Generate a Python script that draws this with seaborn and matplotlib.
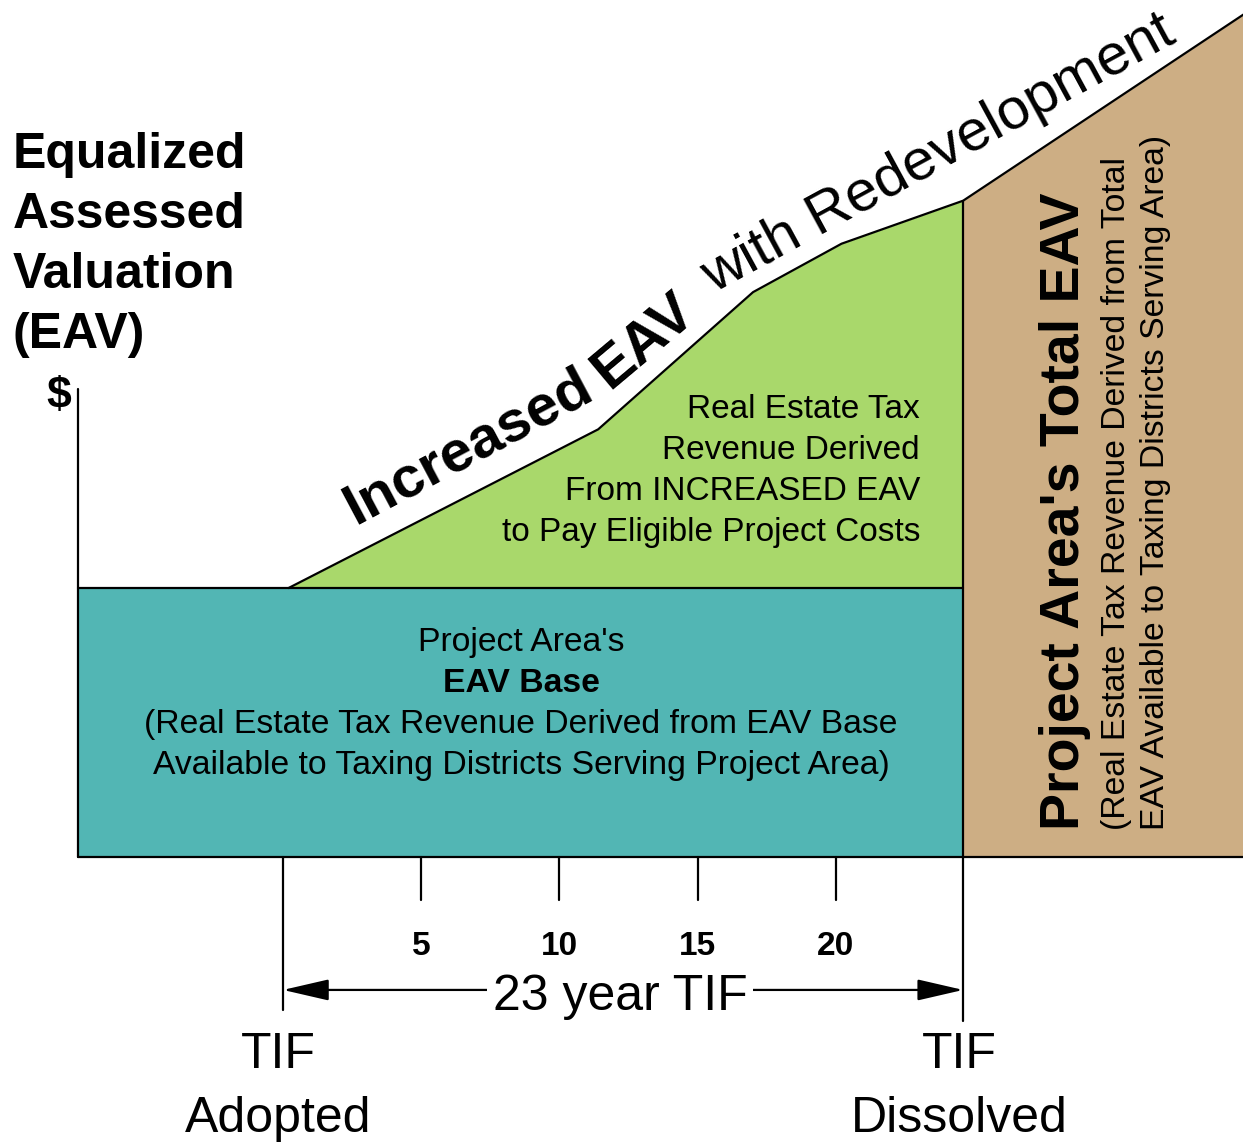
import matplotlib
matplotlib.use("Agg")
import matplotlib.pyplot as plt
import pandas as pd
import seaborn as sns

base_years = [-7.4, 24.6]
base_eav = [100, 100]
growth_years = [0.2, 11.4, 17.0, 20.2, 24.6]
growth_eav = [100, 159, 210, 228, 244]
total_years = [24.6, 35.0]
total_eav = [244, 315]
tick_years = [5, 10, 15, 20]
tick_labels = ["5", "10", "15", "20"]
tif_adopted = 0
tif_dissolved = 24.6

ylabel_lines = ["Equalized", "Assessed", "Valuation", "(EAV)"]
green_lines = ["Real Estate Tax", "Revenue Derived", "From INCREASED EAV",
               "to Pay Eligible Project Costs"]
teal_lines = ["Project Area's", "EAV Base",
              "(Real Estate Tax Revenue Derived from EAV Base",
              "Available to Taxing Districts Serving Project Area)"]

teal = "#52b6b4"
green = "#a9d86b"
tan = "#cdae84"
lw = 1.6

sns.set_style("white")
plt.rcParams["font.family"] = ["Liberation Sans", "DejaVu Sans"]
plt.rcParams["text.color"] = "black"

fig = plt.figure(figsize=(12.43, 11.43), dpi=100)
ax = fig.add_axes([0, 0, 1, 1])
ax.set_xlim(-10.235, 34.72)
ax.set_ylim(-106.3, 318.6)
ax.axis("off")

# Zones colorées
ax.fill_between(base_years, 0, base_eav, color=teal, lw=0)
ax.fill_between(growth_years, base_eav[0], growth_eav, color=green, lw=0)
ax.fill_between(total_years, 0, total_eav, color=tan, lw=0)

# Contour de la courbe EAV
curve = pd.DataFrame({"year": growth_years + total_years[1:],
                      "eav": growth_eav + total_eav[1:]})
sns.lineplot(data=curve, x="year", y="eav", sort=False, estimator=None,
             color="black", lw=lw, ax=ax)
ax.plot(base_years, base_eav, color="black", lw=lw)
ax.plot([base_years[0], total_years[1]], [0, 0], color="black", lw=lw)
ax.plot([base_years[0], base_years[0]], [0, 174], color="black", lw=lw)
ax.plot([tif_dissolved, tif_dissolved], [-61, growth_eav[-1]], color="black", lw=lw)
ax.plot([tif_adopted, tif_adopted], [-57, 0], color="black", lw=lw)
for t, lab in zip(tick_years, tick_labels):
    ax.plot([t, t], [-16, 0], color="black", lw=lw)
    ax.text(t, -36.4, lab, ha="center", va="baseline", fontsize=24,
            fontweight="bold")

# Titre de l'axe
for i, line in enumerate(ylabel_lines):
    ax.text(-9.765, 256.1 - i * 22.3, line, ha="left", va="baseline",
            fontsize=36, fontweight="bold")
ax.text(-8.1, 167, "$", ha="center", va="baseline", fontsize=32,
        fontweight="bold")

# Texte le long de la courbe
ax.text(2.6, 123.5, "Increased", rotation=28, rotation_mode="anchor",
        ha="left", va="baseline", fontsize=42, fontweight="bold")
ax.text(11.8, 173.5, "EAV", rotation=40, rotation_mode="anchor",
        ha="left", va="baseline", fontsize=42, fontweight="bold")
ax.text(15.55, 209.5, "with Redevelopment", rotation=28.5,
        rotation_mode="anchor", ha="left", va="baseline", fontsize=42)

# Zone verte
for i, line in enumerate(green_lines):
    ax.text(23.04, 163.2 - i * 15.2, line, ha="right", va="baseline",
            fontsize=24)

# Zone bleue
for i, line in enumerate(teal_lines):
    ax.text(8.61, 76.6 - i * 15.2, line, ha="center", va="baseline",
            fontsize=24.3, fontweight="bold" if i == 1 else "normal")

# Zone brune (texte vertical)
ax.text(28.28, 10, "Project Area's Total EAV", rotation=90, ha="center",
        va="bottom", fontsize=40, fontweight="bold")
ax.text(30.16, 10, "(Real Estate Tax Revenue Derived from Total",
        rotation=90, ha="center", va="bottom", fontsize=24.3)
ax.text(31.57, 10, "EAV Available to Taxing Districts Serving Area)",
        rotation=90, ha="center", va="bottom", fontsize=24.3)

# Flèche de durée du TIF
ax.annotate("", xy=(tif_adopted, -49.4), xytext=(tif_dissolved, -49.4),
            arrowprops=dict(arrowstyle="<|-|>,head_length=1.3,head_width=0.3",
                            color="black", lw=lw, mutation_scale=22,
                            shrinkA=0, shrinkB=0))
ax.text(12.19, -57, "23 year TIF", ha="center", va="baseline", fontsize=36,
        bbox=dict(facecolor="white", edgecolor="none", pad=4))

ax.text(-0.18, -78.4, "TIF", ha="center", va="baseline", fontsize=36)
ax.text(-0.18, -102.2, "Adopted", ha="center", va="baseline", fontsize=36)
ax.text(24.45, -78.4, "TIF", ha="center", va="baseline", fontsize=36)
ax.text(24.45, -102.2, "Dissolved", ha="center", va="baseline", fontsize=36)

fig.savefig("out.png", dpi=100)
